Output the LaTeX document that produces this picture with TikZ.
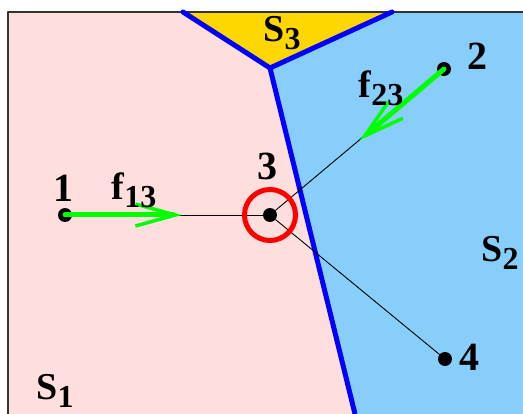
\documentclass[tikz,border=0pt]{standalone}
\usepackage{fontspec}
\setmainfont{Liberation Serif}
\usetikzlibrary{arrows.meta}
\definecolor{rosa}{RGB}{255,222,222}
\definecolor{himmel}{RGB}{135,206,250}
\definecolor{gelb}{RGB}{255,215,0}
\newcommand{\tief}[1]{\raisebox{-8pt}{\fontsize{32}{36}\selectfont\bfseries #1}}
\tikzset{
  punkt/.style={circle,fill=black,inner sep=0pt,minimum size=14pt},
  zahl/.style={inner sep=0pt,font=\fontsize{40}{44}\selectfont\bfseries},
  gebietlabel/.style={inner sep=0pt,font=\fontsize{38}{42}\selectfont\bfseries},
  kraft/.style={green,line width=5pt,-{Straight Barb[length=40pt,width=22pt,line width=3.5pt]}},
  grenze/.style={blue,line width=5pt},
}
\begin{document}
\begin{tikzpicture}[line cap=round,line join=round,x=1pt,y=-1pt]
			\useasboundingbox (0,0) rectangle (523,414);
			% Gebiete
			\coordinate (v) at (270,68);
			\coordinate (ol) at (183,12);
			\coordinate (or) at (392,12);
			\coordinate (u) at (355,414);
			\fill[rosa] (8,12) -- (ol) -- (v) -- (u) -- (8,414) -- cycle;
			\fill[himmel] (or) -- (523,12) -- (523,414) -- (u) -- (v) -- cycle;
			\fill[gelb] (ol) -- (or) -- (v) -- cycle;
			% Rahmen
			\draw[line width=2pt,black!80,line cap=butt] (8,414) -- (8,12) -- (523,12);
			% Grenzen
			\draw[grenze] (ol) -- (v) -- (or);
			\draw[grenze,line cap=butt] (v) -- (u);
			% Punkte
			\node[punkt] (p1) at (65,215) {};
			\node[punkt] (p2) at (444,69) {};
			\node[punkt] (p3) at (270,215) {};
			\node[punkt] (p4) at (445,359) {};
			\draw[line width=0.9pt] (p1) -- (p3);
			\draw[line width=0.9pt] (p3) -- (p2);
			\draw[line width=0.9pt] (p3) -- (p4);
			% Kraefte
			\coordinate (f13) at (182,215);
			\coordinate (f23) at (360,140);
			\draw[kraft] (p1.center) -- (f13);
			\draw[kraft] (p2.center) -- (f23);
			\draw[red,line width=5pt] (p3.center) circle (25.5pt);
			% Beschriftung
			\node[zahl] (l1) at (63,188) {1};
			\node[zahl] (l2) at (477,56) {2};
			\node[zahl] (l3) at (267,166) {3};
			\node[zahl] (l4) at (469,357) {4};
			\node[gebietlabel] (lf13) at (134,190) {f\tief{13}};
			\node[gebietlabel] (lf23) at (381,88) {f\tief{23}};
			\node[gebietlabel] (s1) at (55,391) {S\tief{1}};
			\node[gebietlabel] (s2) at (500,253) {S\tief{2}};
			\node[gebietlabel] (s3) at (282,33) {S\tief{3}};
	\end{tikzpicture}
\end{document}
